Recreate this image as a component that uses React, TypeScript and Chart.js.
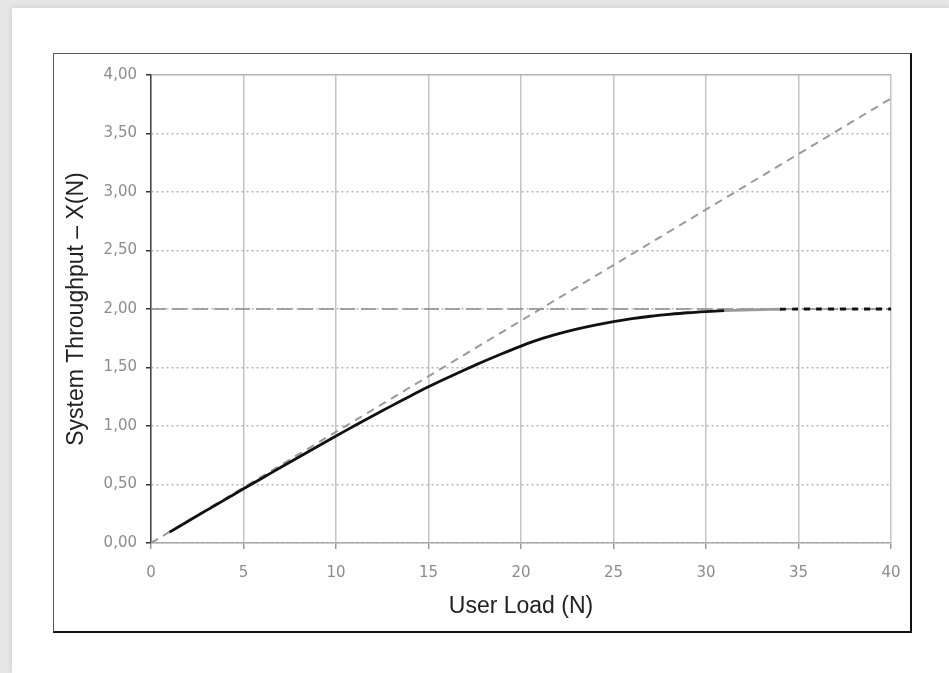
import React, { useEffect, useRef } from "react";
import { Chart, registerables } from "chart.js";

Chart.register(...registerables);

const userLoad = [1, 2, 3, 4, 5, 6, 7, 8, 9, 10, 11, 12, 13, 14, 15, 16, 17, 18, 19, 20, 21, 22, 23, 24, 25, 26, 27, 28, 29, 30, 31, 32, 33, 34, 35, 36, 37, 38, 39, 40];
const throughput = [0.093, 0.186, 0.279, 0.371, 0.463, 0.554, 0.645, 0.735, 0.825, 0.914, 1.002, 1.088, 1.172, 1.255, 1.335, 1.41, 1.483, 1.553, 1.62, 1.683, 1.74, 1.787, 1.828, 1.863, 1.893, 1.918, 1.938, 1.954, 1.968, 1.978, 1.986, 1.991, 1.995, 1.998, 2.0, 2.0, 2.0, 2.0, 2.0, 2.0];
const boundLoad = [0, 40];
const linearBound = [0, 3.8];
const maxBound = [2.0, 2.0];
const xTicks = [0, 5, 10, 15, 20, 25, 30, 35, 40];
const yTicks = [0, 0.5, 1, 1.5, 2, 2.5, 3, 3.5, 4];

export default function App() {
  const ref = useRef<HTMLCanvasElement | null>(null);

  useEffect(() => {
    if (!ref.current) return;
    const chart = new Chart(ref.current, {
      type: "line",
      data: {
        datasets: [
          {
            label: "X(N)",
            data: userLoad.map((n, i) => ({ x: n, y: throughput[i] })),
            borderColor: "#111",
            borderWidth: 2.8,
            pointRadius: 0,
            tension: 0.3,
            segment: {
              borderColor: (c: any) => (c.p0.parsed.x >= 31 && c.p0.parsed.x < 34 ? "#9a9a9a" : "#111"),
              borderDash: (c: any) => (c.p0.parsed.x >= 34 ? [6, 6] : []),
            },
          },
          {
            label: "N/(D+Z)",
            data: boundLoad.map((n, i) => ({ x: n, y: linearBound[i] })),
            borderColor: "#9a9a9a",
            borderWidth: 2,
            borderDash: [8, 6],
            pointRadius: 0,
          },
          {
            label: "1/Dmax",
            data: boundLoad.map((n, i) => ({ x: n, y: maxBound[i] })),
            borderColor: "#8a8a8a",
            borderWidth: 1.5,
            borderDash: [15, 6],
            pointRadius: 0,
          },
        ],
      },
      options: {
        animation: false,
        responsive: false,
        maintainAspectRatio: false,
        layout: { padding: { top: 21, right: 19, bottom: 0, left: 0 } },
        plugins: { legend: { display: false }, tooltip: { enabled: false } },
        scales: {
          x: {
            type: "linear",
            min: 0,
            max: 40,
            afterFit: (s: any) => {
              s.height = 88;
              s.paddingRight = 0;
              s.paddingLeft = 0;
            },
            afterBuildTicks: (s: any) => {
              s.ticks = xTicks.map((v) => ({ value: v }));
            },
            ticks: {
              color: "#8c8c8c",
              font: { family: "DejaVu Sans", size: 15 },
              padding: 15,
              maxRotation: 0,
            },
            grid: {
              color: "#c4c4c4",
              lineWidth: 1.5,
              tickLength: 6,
              tickColor: "#999",
            },
            border: { color: "#aaa", width: 1.5 },
            title: {
              display: true,
              text: "User Load (N)",
              color: "#222",
              font: { family: "Liberation Sans", size: 23 },
              padding: { top: 0, bottom: 11 },
            },
          },
          y: {
            type: "linear",
            min: 0,
            max: 4,
            afterFit: (s: any) => {
              s.width = 97;
            },
            afterBuildTicks: (s: any) => {
              s.ticks = yTicks.map((v) => ({ value: v }));
            },
            ticks: {
              color: "#8c8c8c",
              font: { family: "DejaVu Sans", size: 15 },
              padding: 9,
              callback: (v: any) => Number(v).toFixed(2).replace(".", ","),
            },
            grid: {
              color: "#b4b4b4",
              lineWidth: 1.5,
              tickLength: 5,
              tickColor: "#333",
            },
            border: {
              color: "#444",
              width: 1.5,
              dash: (c: any) => (c.tick && c.tick.value === 4 ? [] : [2, 3]),
            },
            title: {
              display: true,
              text: "System Throughput – X(N)",
              color: "#222",
              font: { family: "Liberation Sans", size: 23 },
              padding: { top: 9, bottom: 0 },
            },
          },
        },
      },
    });
    return () => chart.destroy();
  }, []);

  return (
    <div style={{ position: "fixed", left: 0, top: 0, width: 949, height: 673, background: "#e6e6e6", overflow: "hidden" }}>
      <div style={{ position: "absolute", left: 12, top: 8, width: 937, height: 665, background: "#fff", boxShadow: "0 0 6px rgba(0,0,0,0.12)" }} />
      <div
        style={{
          position: "absolute",
          left: 53,
          top: 53,
          width: 856,
          height: 577,
          borderTop: "1px solid #555",
          borderLeft: "1px solid #555",
          borderRight: "2px solid #111",
          borderBottom: "2px solid #111",
          background: "#fff",
        }}
      >
        <canvas ref={ref} width={856} height={577} style={{ display: "block", width: 856, height: 577 }} />
      </div>
    </div>
  );
}
